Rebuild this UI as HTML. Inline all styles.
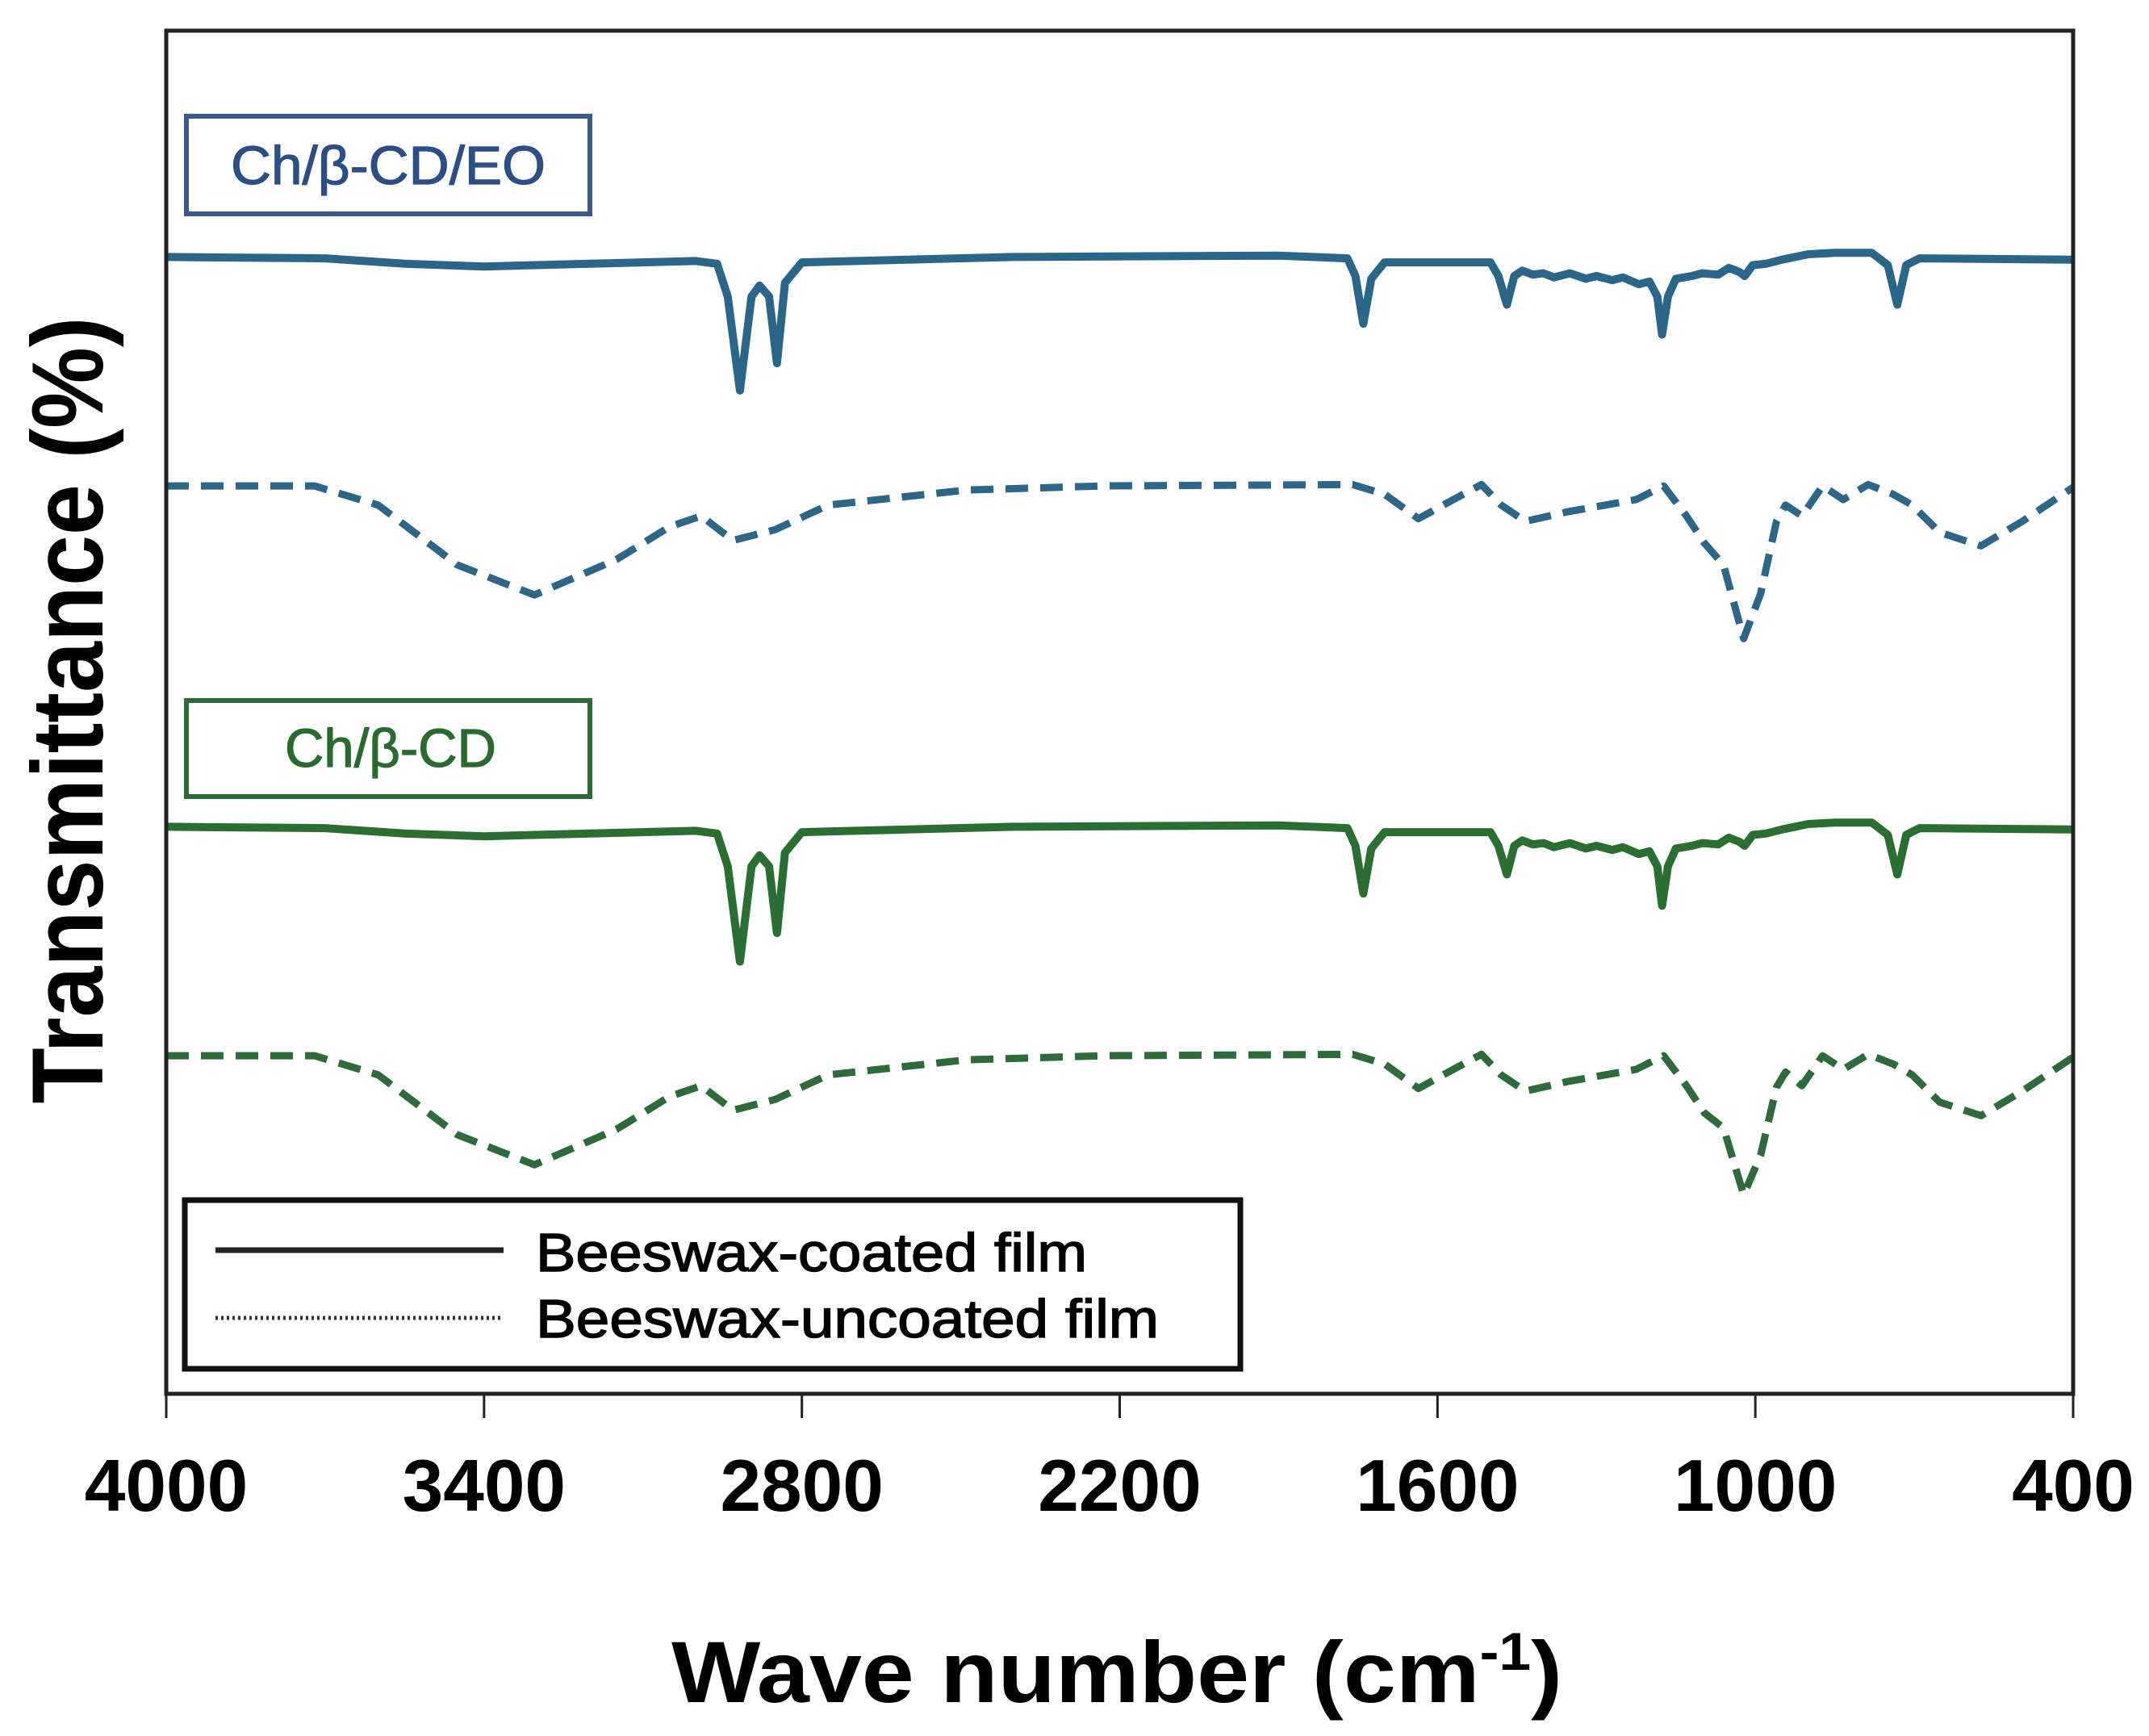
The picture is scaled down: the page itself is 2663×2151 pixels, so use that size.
<!DOCTYPE html>
<html><head><meta charset="utf-8">
<style>
html,body{margin:0;padding:0;background:#fff;}
svg{display:block;}
</style></head>
<body>
<svg id="chart" width="2663" height="2151" viewBox="0 0 2663 2151" xmlns="http://www.w3.org/2000/svg">
  <rect x="0" y="0" width="2663" height="2151" fill="#fff"/>
  <g id="series"></g>
  <rect x="206" y="38" width="2363" height="1689" fill="none" stroke="#222" stroke-width="5"/>
  <g id="xticks"></g>

  <rect x="231" y="144" width="500" height="121" fill="none" stroke="#3b5a88" stroke-width="6"/>
  <text x="481" y="228" text-anchor="middle" font-family="Liberation Sans, sans-serif" font-size="67" fill="#2c4d86" stroke="#2c4d86" stroke-width="1.2" textLength="390" lengthAdjust="spacingAndGlyphs">Ch/β-CD/EO</text>

  <rect x="231" y="868" width="500" height="119" fill="none" stroke="#2e6a36" stroke-width="6"/>
  <text x="484" y="950" text-anchor="middle" font-family="Liberation Sans, sans-serif" font-size="67" fill="#2a6a2f" stroke="#2a6a2f" stroke-width="1.2">Ch/β-CD</text>

  <g>
    <rect x="229" y="1487" width="1308" height="209" fill="#fff" stroke="#111" stroke-width="7"/>
    <line x1="267" y1="1549" x2="624" y2="1549" stroke="#222" stroke-width="7"/>
    <text x="664" y="1575" font-family="Liberation Sans, sans-serif" font-size="67" fill="#000" stroke="#000" stroke-width="1.5" textLength="683" lengthAdjust="spacingAndGlyphs">Beeswax-coated film</text>
    <line x1="267" y1="1633" x2="624" y2="1633" stroke="#333" stroke-width="5" stroke-dasharray="3,4"/>
    <text x="664" y="1657" font-family="Liberation Sans, sans-serif" font-size="67" fill="#000" stroke="#000" stroke-width="1.5" textLength="772" lengthAdjust="spacingAndGlyphs">Beeswax-uncoated film</text>
  </g>

  <text transform="translate(127,880) rotate(-90)" text-anchor="middle" font-family="Liberation Sans, sans-serif" font-weight="bold" font-size="125" fill="#000" textLength="975" lengthAdjust="spacingAndGlyphs">Transmittance (%)</text>
  <text x="1384" y="2109" text-anchor="middle" font-family="Liberation Sans, sans-serif" font-weight="bold" font-size="108" fill="#000" textLength="1104" lengthAdjust="spacingAndGlyphs">Wave number (cm<tspan dy="-40" font-size="66">-1</tspan><tspan dy="40">)</tspan></text>
</svg>
<script>
const xTicks = [4000, 3400, 2800, 2200, 1600, 1000, 400];
const xTickLabels = ["4000", "3400", "2800", "2200", "1600", "1000", "400"];

const eoCoated = [[4000,83.4],[3700,83.3],[3550,82.9],[3400,82.7],[3200,82.9],[3000,83.1],[2960,82.9],[2940,80.5],[2917,73.6],[2895,80.5],[2880,81.3],[2862,80.5],[2847,75.6],[2832,81.5],[2800,83.0],[2400,83.4],[1900,83.5],[1770,83.3],[1755,82.0],[1740,78.5],[1725,81.8],[1700,83.0],[1500,83.0],[1485,82.0],[1469,79.9],[1455,82.0],[1440,82.4],[1420,82.1],[1400,82.2],[1380,81.9],[1350,82.2],[1320,81.8],[1300,82.0],[1270,81.7],[1250,81.9],[1220,81.4],[1200,81.6],[1185,80.5],[1176,77.7],[1165,80.5],[1150,81.8],[1120,82.0],[1100,82.2],[1070,82.1],[1050,82.6],[1030,82.3],[1020,82.0],[1005,82.8],[980,82.9],[950,83.2],[900,83.6],[850,83.7],[780,83.7],[750,82.8],[732,79.9],[715,82.8],[690,83.3],[400,83.2]];
const eoUncoated = [[4000,66.6],[3720,66.6],[3600,65.2],[3450,60.8],[3305,58.6],[3150,61.2],[3050,63.6],[2990,64.4],[2930,62.6],[2850,63.4],[2750,65.2],[2490,66.3],[2230,66.6],[1760,66.7],[1700,66.0],[1636,64.2],[1570,65.6],[1517,66.7],[1480,65.2],[1434,64.0],[1355,64.7],[1225,65.6],[1173,66.6],[1130,64.4],[1096,62.4],[1060,60.8],[1022,55.4],[990,58.7],[960,64.0],[943,65.2],[912,64.4],[873,66.6],[834,65.6],[787,66.7],[740,66.0],[704,65.2],[652,63.2],[574,62.2],[496,64.0],[400,66.5]];
const cdCoated = [[4000,41.6],[3700,41.5],[3550,41.1],[3400,40.9],[3200,41.1],[3000,41.3],[2960,41.1],[2940,38.7],[2917,31.7],[2895,38.7],[2880,39.5],[2862,38.7],[2847,33.8],[2832,39.7],[2800,41.2],[2400,41.6],[1900,41.7],[1770,41.5],[1755,40.2],[1740,36.7],[1725,40.0],[1700,41.2],[1500,41.2],[1485,40.2],[1469,38.1],[1455,40.2],[1440,40.6],[1420,40.3],[1400,40.4],[1380,40.1],[1350,40.4],[1320,40.0],[1300,40.2],[1270,39.9],[1250,40.1],[1220,39.6],[1200,39.8],[1185,38.7],[1176,35.8],[1165,38.7],[1150,40.0],[1120,40.2],[1100,40.4],[1070,40.3],[1050,40.8],[1030,40.5],[1020,40.2],[1005,41.0],[980,41.1],[950,41.4],[900,41.8],[850,41.9],[780,41.9],[750,41.0],[732,38.1],[715,41.0],[690,41.5],[400,41.4]];
const cdUncoated = [[4000,24.8],[3720,24.8],[3600,23.4],[3450,19.0],[3305,16.8],[3150,19.4],[3050,21.8],[2990,22.6],[2930,20.8],[2850,21.6],[2750,23.4],[2490,24.5],[2230,24.8],[1760,24.9],[1700,24.2],[1636,22.4],[1570,23.8],[1517,24.9],[1480,23.4],[1434,22.2],[1355,22.9],[1225,23.8],[1173,24.8],[1130,22.6],[1096,20.6],[1060,19.5],[1022,14.6],[990,17.5],[960,22.5],[943,23.6],[912,22.6],[873,24.8],[834,23.8],[787,24.9],[740,24.2],[704,23.4],[652,21.4],[574,20.4],[496,22.2],[400,24.7]];

const X0 = 206, X1 = 2569, Y0 = 1727, Y1 = 38;
function xScale(w){ return X0 + (4000 - w) / 3600 * (X1 - X0); }
function yScale(v){ return Y0 - v / 100 * (Y0 - Y1); }
const NS = "http://www.w3.org/2000/svg";

const seriesG = document.getElementById('series');
function drawSeries(data, color, dashed, name){
  const p = document.createElementNS(NS, 'path');
  p.setAttribute('d', data.map((d,i)=>(i?'L':'M')+xScale(d[0]).toFixed(1)+','+yScale(d[1]).toFixed(1)).join(' '));
  p.setAttribute('fill','none');
  p.setAttribute('stroke',color);
  p.setAttribute('stroke-width', dashed ? 9 : 10);
  p.setAttribute('stroke-linejoin','round');
  if (dashed) p.setAttribute('stroke-dasharray','28,15');
  
  
  seriesG.appendChild(p);
}
drawSeries(eoCoated, '#2a6688', false, 'line-ch-bcd-eo-coated');
drawSeries(eoUncoated, '#2d6687', true, 'line-ch-bcd-eo-uncoated');
drawSeries(cdCoated, '#2b6e33', false, 'line-ch-bcd-coated');
drawSeries(cdUncoated, '#2f6a3a', true, 'line-ch-bcd-uncoated');

const xg = document.getElementById('xticks');
xTicks.forEach((t,i)=>{
  const x = xScale(t);
  const l = document.createElementNS(NS,'line');
  l.setAttribute('x1',x); l.setAttribute('x2',x);
  l.setAttribute('y1',Y0); l.setAttribute('y2',1757);
  l.setAttribute('stroke','#222'); l.setAttribute('stroke-width','3');
  
  
  xg.appendChild(l);
  const tx = document.createElementNS(NS,'text');
  tx.setAttribute('x',x); tx.setAttribute('y',1872);
  tx.setAttribute('text-anchor','middle');
  tx.setAttribute('font-family','Liberation Sans, sans-serif');
  tx.setAttribute('font-weight','bold');
  tx.setAttribute('font-size','91');
  tx.textContent = xTickLabels[i];
  
  
  xg.appendChild(tx);
});
</script>
</body></html>
